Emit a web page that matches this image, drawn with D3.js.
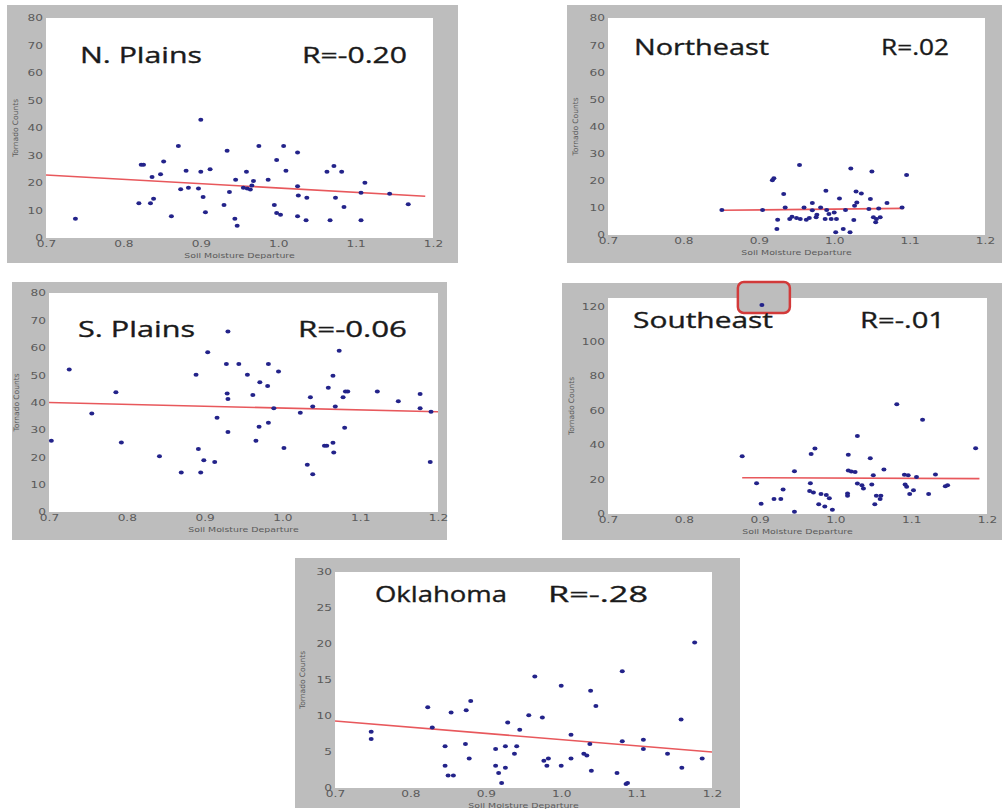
<!DOCTYPE html>
<html><head><meta charset="utf-8">
<script src="https://cdn.jsdelivr.net/npm/d3@7"></script>
<style>body{margin:0;background:#fff}svg{display:block}</style>
</head><body>
<svg id="c" width="1005" height="812"></svg>
<script>
// ---- data ----
const xTicks = [0.7, 0.8, 0.9, 1.0, 1.1, 1.2];
const yTicks80 = [0, 10, 20, 30, 40, 50, 60, 70, 80];
const yTicksSE = [0, 20, 40, 60, 80, 100, 120];
const yTicksOK = [0, 5, 10, 15, 20, 25, 30];
const titles = ["N. Plains", "Northeast", "S. Plains", "Southeast", "Oklahoma"];
const rLabels = ["R=-0.20", "R=.02", "R=-0.06", "R=-.01", "R=-.28"];
const xLabel = "Soil Moisture Departure";
const yLabel = "Tornado Counts";

const npX = [0.738,0.820,0.823,0.826,0.835,0.839,0.837,0.848,0.852,0.862,0.871,0.874,0.881,0.884,0.897,0.900,0.900,0.903,0.906,0.912,0.930,0.934,0.937,0.944,0.945,0.947,0.959,0.955,0.960,0.964,0.966,0.968,0.975,0.987,0.995,0.998,0.998,1.003,1.007,1.010,1.025,1.025,1.026,1.025,1.037,1.036,1.063,1.067,1.072,1.074,1.082,1.085,1.107,1.107,1.112,1.144,1.168];
const npY = [7.0,12.6,26.6,26.6,12.6,14.3,22.2,23.2,27.8,7.9,33.5,17.7,24.5,18.3,18.0,24.1,43.0,14.9,9.4,25.0,12.0,31.7,16.7,7.0,21.2,4.5,24.1,18.3,18.0,17.6,19.1,20.7,33.5,21.2,12.0,28.4,9.1,8.5,33.5,24.5,31.1,18.8,15.5,7.9,14.6,6.5,24.1,6.5,26.2,14.6,24.1,11.3,16.5,6.5,20.1,16.1,12.3];
const npLineX = [0.70, 1.19];
const npLineY = [22.9, 15.2];

const neX = [0.851,0.905,0.918,0.920,0.933,0.925,0.924,0.935,0.941,0.944,0.950,0.954,0.955,0.960,0.963,0.967,0.971,0.971,0.976,0.977,0.982,0.989,0.988,0.990,0.993,0.996,1.000,1.002,1.003,1.007,1.012,1.015,1.022,1.021,1.026,1.027,1.029,1.030,1.036,1.046,1.048,1.050,1.052,1.055,1.056,1.059,1.061,1.070,1.090,1.096];
const neY = [9.2,9.2,20.2,20.9,15.1,5.6,2.2,10.1,5.9,6.7,6.3,25.8,5.9,10.1,5.6,6.3,11.8,9.1,6.5,7.5,10.1,16.3,5.9,9.2,7.7,5.9,8.3,1.0,5.9,13.5,2.2,9.2,24.5,1.0,5.5,10.8,16.0,12.0,15.3,9.6,13.3,23.4,6.5,4.7,5.9,9.8,6.5,11.8,10.1,22.1];
const neLineX = [0.851, 1.092];
const neLineY = [9.1, 9.8];

const spX = [0.703,0.726,0.755,0.786,0.793,0.842,0.870,0.889,0.892,0.895,0.899,0.904,0.913,0.916,0.928,0.929,0.930,0.930,0.930,0.944,0.955,0.962,0.966,0.970,0.971,0.981,0.982,0.982,0.989,0.995,1.002,1.023,1.032,1.036,1.039,1.039,1.054,1.057,1.059,1.065,1.065,1.066,1.068,1.073,1.078,1.080,1.081,1.084,1.122,1.149,1.177,1.177,1.190,1.191];
const spY = [26.0,52.1,36.0,43.7,25.4,20.4,14.4,50.1,23.0,14.4,18.9,58.4,18.3,34.4,54.1,43.3,41.3,29.2,65.9,54.1,50.1,42.7,26.0,31.1,47.4,46.0,54.1,32.6,37.9,51.3,23.4,36.3,17.3,41.9,13.8,38.5,24.2,24.2,45.4,49.8,25.3,21.7,38.5,58.9,41.9,30.8,44.0,44.0,44.0,40.5,43.1,37.9,18.3,36.6];
const spLineX = [0.70, 1.20];
const spLineY = [40.0, 36.6];

const seX = [0.903,0.877,0.896,0.902,0.919,0.928,0.931,0.946,0.946,0.968,0.973,0.967,0.966,0.971,0.978,0.981,0.986,0.988,0.992,0.996,1.017,1.016,1.016,1.017,1.021,1.026,1.029,1.029,1.035,1.037,1.046,1.048,1.050,1.052,1.054,1.059,1.060,1.064,1.081,1.091,1.092,1.094,1.096,1.098,1.103,1.107,1.115,1.123,1.132,1.145,1.148,1.185];
const seY = [121,33.4,17.8,5.9,8.7,8.7,14.2,24.8,1.3,34.7,37.9,17.8,13.3,12.5,5.7,11.6,4.4,11.0,9.1,2.5,34.3,11.9,10.6,25.2,24.6,24.3,45.1,17.6,16.7,14.8,32.2,17.1,22.4,5.7,10.6,8.7,10.6,25.8,63.5,22.7,17.1,15.7,22.4,11.6,13.8,21.4,54.6,11.6,22.9,16.1,16.7,38.1];
const seLineX = [0.877, 1.19];
const seLineY = [21.0, 20.5];

const okX = [0.748,0.748,0.823,0.829,0.846,0.846,0.850,0.857,0.854,0.873,0.874,0.878,0.880,0.913,0.913,0.917,0.921,0.926,0.926,0.929,0.938,0.941,0.945,0.957,0.965,0.975,0.977,0.981,0.983,1.000,1.000,1.013,1.013,1.030,1.034,1.038,1.039,1.040,1.046,1.074,1.081,1.081,1.086,1.088,1.109,1.109,1.141,1.159,1.160,1.177,1.187];
const okY = [7.8,6.8,11.2,8.4,5.8,3.1,1.75,1.75,10.5,6.1,10.8,4.1,12.1,5.4,3.1,2.1,0.7,5.8,2.8,9.1,4.75,5.8,8.1,10.1,15.5,9.8,3.8,3.1,4.1,3.1,14.2,7.4,4.1,4.75,4.5,6.1,13.5,2.4,11.4,2.1,16.2,6.5,0.55,0.7,6.7,5.4,4.75,9.5,2.8,20.2,4.1];
const okLineX = [0.70, 1.20];
const okLineY = [9.3, 5.0];

// ---- layout (positions / styles only) ----
const layout = [
  {frame:[7,5,458,263],   plot:[46,18,433,238],  ymax:80,  ticks:yTicks80, xs:npX, ys:npY, lx:npLineX, ly:npLineY, t:[80,63,122], r:[407,63,105], ylx:-31},
  {frame:[567,5,1002,263],plot:[608,18,985,235], ymax:80,  ticks:yTicks80, xs:neX, ys:neY, lx:neLineX, ly:neLineY, t:[634,55,135], r:[949,55,68], ylx:-33},
  {frame:[12,282,447,540],plot:[49,293,438,512], ymax:80,  ticks:yTicks80, xs:spX, ys:spY, lx:spLineX, ly:spLineY, t:[78,337,117], r:[407,337,109], ylx:-33},
  {frame:[562,283,1002,540],plot:[608,298,987,514],ymax:125,ticks:yTicksSE, xs:seX, ys:seY, lx:seLineX, ly:seLineY, t:[633,328,140], r:[945,328,85], ylx:-37},
  {frame:[295,558,740,808],plot:[335,572,712,788],ymax:30,  ticks:yTicksOK, xs:okX, ys:okY, lx:okLineX, ly:okLineY, t:[375,602,132], r:[648,602,100], ylx:-33}
];

const svg = d3.select("#c");
const FRAME = "#bdbdbd", DOT = "#23238a", LINE = "#e8585c", TICK = "#5a5a5a";
const S = 1.35;

layout.forEach((p, i) => {
  const [fx0, fy0, fx1, fy1] = p.frame;
  const [px0, py0, px1, py1] = p.plot;
  svg.append("rect").attr("x", fx0).attr("y", fy0).attr("width", fx1 - fx0).attr("height", fy1 - fy0).attr("fill", FRAME);
  svg.append("rect").attr("x", px0).attr("y", py0).attr("width", px1 - px0).attr("height", py1 - py0).attr("fill", "#fff");

  const x = d3.scaleLinear().domain([0.7, 1.2]).range([px0, px1]);
  const y = d3.scaleLinear().domain([0, p.ymax]).range([py1, py0]);

  // x axis
  const gx = svg.append("g").attr("transform", `translate(0,${py1})`)
    .call(d3.axisBottom(x).tickValues(xTicks).tickFormat(d3.format(".1f")).tickSize(0).tickPadding(3));
  gx.select(".domain").remove();
  gx.selectAll("text").attr("font-family", "DejaVu Sans").attr("font-size", 9).attr("fill", TICK)
    .attr("transform", `scale(${S},1)`);

  // y axis
  const gy = svg.append("g").attr("transform", `translate(${px0},0)`)
    .call(d3.axisLeft(y).tickValues(p.ticks).tickFormat(d3.format("d")).tickSize(0).tickPadding(3));
  gy.select(".domain").remove();
  gy.selectAll("text").attr("font-family", "DejaVu Sans").attr("font-size", 9).attr("fill", TICK)
    .attr("transform", `translate(-3,0) scale(${S},1) translate(3,0)`);

  // axis labels
  svg.append("text").attr("x", (px0 + px1) / 2).attr("y", py1 + 20).attr("text-anchor", "middle")
    .attr("font-family", "DejaVu Sans").attr("font-size", 7.5).attr("fill", TICK)
    .attr("transform", `translate(${(px0 + px1) / 2},0) scale(1.25,1) translate(${-(px0 + px1) / 2},0)`)
    .text(xLabel);
  svg.append("text").attr("transform", `translate(${px0 + p.ylx},${(py0 + py1) / 2}) rotate(-90)`)
    .attr("text-anchor", "middle").attr("dy", "0.35em")
    .attr("font-family", "DejaVu Sans").attr("font-size", 7.5).attr("fill", TICK)
    .text(yLabel);

  // red annotation box (Southeast outlier)
  if (i === 3) {
    const bx = x(seX[0]);
    svg.append("rect").attr("x", bx - 24).attr("y", fy0 - 1).attr("width", 52).attr("height", 31)
      .attr("rx", 6).attr("fill", FRAME).attr("stroke", "#d23a3a").attr("stroke-width", 2.5);
  }

  // regression line
  svg.append("path").datum(d3.zip(p.lx, p.ly))
    .attr("d", d3.line().x(d => x(d[0])).y(d => y(d[1])))
    .attr("stroke", LINE).attr("stroke-width", 1.6).attr("fill", "none");

  // points
  svg.append("g").selectAll("ellipse").data(d3.zip(p.xs, p.ys)).join("ellipse")
    .attr("cx", d => x(d[0])).attr("cy", d => y(d[1])).attr("rx", 2.5).attr("ry", 2.0).attr("fill", DOT);

  // titles
  svg.append("text").attr("x", p.t[0]).attr("y", p.t[1])
    .attr("font-family", "Open Sans").attr("font-size", 22).attr("fill", "#1a1a1a")
    .attr("stroke", "#1a1a1a").attr("stroke-width", 0.35)
    .attr("textLength", p.t[2]).attr("lengthAdjust", "spacingAndGlyphs")
    .text(titles[i]);
  svg.append("text").attr("x", p.r[0] - p.r[2]).attr("y", p.r[1])
    .attr("font-family", "Open Sans").attr("font-size", 22).attr("fill", "#1a1a1a")
    .attr("stroke", "#1a1a1a").attr("stroke-width", 0.35)
    .attr("textLength", p.r[2]).attr("lengthAdjust", "spacingAndGlyphs")
    .text(rLabels[i]);
});
</script>
</body></html>
